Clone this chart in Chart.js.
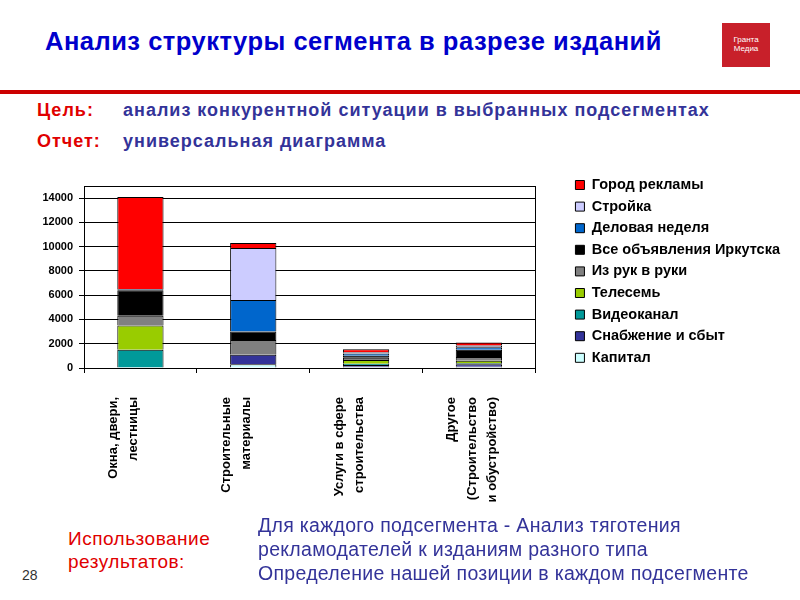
<!DOCTYPE html>
<html>
<head>
<meta charset="utf-8">
<script src="https://cdn.jsdelivr.net/npm/chart.js@4/dist/chart.umd.min.js"></script>
<style>
  body { margin: 0; width: 800px; height: 600px; background: #fff; overflow: hidden; position: relative; font-family: "Liberation Sans", Arial, sans-serif; }
  .abs { position: absolute; white-space: nowrap; }
  #title { left: 45px; top: 28px; font-size: 25.5px; line-height: 26px; letter-spacing: 0.5px; font-weight: bold; color: #0000CC; }
  #rule { left: 0; top: 90px; width: 800px; height: 4px; background: #CC0000; }
  .lbl { font-size: 18px; line-height: 18px; letter-spacing: 1px; font-weight: bold; }
  .red { color: #E00000; }
  .navy { color: #333399; }
  #logo { left: 722px; top: 23px; width: 48px; height: 44px; background: #C8202A; color: #fff; font-size: 8px; line-height: 9px; text-align: center; padding-top: 12px; box-sizing: border-box; }
  #wrap { position: absolute; left: 30px; top: 161px; width: 770px; height: 357px; }
</style>
</head>
<body>
<div class="abs" id="title">Анализ структуры сегмента в разрезе изданий</div>
<div class="abs" id="logo">Гранта<br>Медиа</div>
<div class="abs" id="rule"></div>
<div class="abs lbl red" style="left:37px;top:100.5px">Цель:</div>
<div class="abs lbl navy" style="left:123px;top:100.5px">анализ конкурентной ситуации в выбранных подсегментах</div>
<div class="abs lbl red" style="left:37px;top:131.5px">Отчет:</div>
<div class="abs lbl navy" style="left:123px;top:131.5px">универсальная диаграмма</div>

<div id="wrap"><canvas id="grafico"></canvas></div>

<div class="abs red" style="left:68px;top:527px;font-size:19px;line-height:23px;letter-spacing:0.5px">Использование<br>результатов:</div>
<div class="abs navy" style="left:258px;top:512.7px;font-size:19.5px;line-height:24px;letter-spacing:0.3px">Для каждого подсегмента - Анализ тяготения<br>рекламодателей к изданиям разного типа<br>Определение нашей позиции в каждом подсегменте</div>
<div class="abs" style="left:22px;top:568px;font-size:14px;line-height:14px;color:#333">28</div>

<script>
const categorias = [
  ["Окна, двери,", "лестницы"],
  ["Строительные", "материалы"],
  ["Услуги в сфере", "строительства"],
  ["Другое", "(Строительство", "и обустройство)"]
];
const yTicks = [0, 2000, 4000, 6000, 8000, 10000, 12000, 14000];

// снизу вверх, как в стопке
const kapital = [0, 300, 100, 100];
const snabzhenie = [0, 800, 150, 200];
const videokanal = [1500, 0, 100, 100];
const telesem = [2000, 0, 300, 200];
const izRukVRuki = [800, 1200, 200, 300];
const vseObyavleniya = [2100, 700, 150, 600];
const delovayaNedelya = [100, 2600, 200, 200];
const stroyka = [0, 4300, 100, 150];
const gorodReklamy = [7600, 400, 250, 250];

const fonte = "'Liberation Sans', Arial, sans-serif";

function serie(label, data, cor) {
  return { label: label, data: data, backgroundColor: cor, borderColor: "#000", borderWidth: 1 };
}

const ctx = document.getElementById("grafico").getContext("2d");

new Chart(ctx, {
  type: "bar",
  data: {
    labels: categorias,
    datasets: [
      serie("Капитал", kapital, "#CCFFFF"),
      serie("Снабжение и сбыт", snabzhenie, "#333399"),
      serie("Видеоканал", videokanal, "#009999"),
      serie("Телесемь", telesem, "#99CC00"),
      serie("Из рук в руки", izRukVRuki, "#808080"),
      serie("Все объявления Иркутска", vseObyavleniya, "#000000"),
      serie("Деловая неделя", delovayaNedelya, "#0066CC"),
      serie("Стройка", stroyka, "#CCCCFF"),
      serie("Город рекламы", gorodReklamy, "#FF0000")
    ]
  },
  options: {
    responsive: true,
    maintainAspectRatio: false,
    animation: false,
    layout: { padding: { top: 9.65, right: 10, left: 0, bottom: 0 } },
    datasets: { bar: { categoryPercentage: 1, barPercentage: 0.41 } },
    plugins: {
      tooltip: { enabled: false },
      legend: {
        position: "right",
        align: "start",
        reverse: true,
        maxWidth: 300,
        labels: {
          boxWidth: 9,
          boxHeight: 9,
          padding: 7.1,
          color: "#000",
          font: { family: fonte, size: 14.5, weight: "bold" }
        }
      }
    },
    scales: {
      x: {
        stacked: true,
        grid: { drawOnChartArea: false, drawTicks: true, tickLength: 5, color: "#000", offset: true },
        border: { color: "#000", width: 1 },
        ticks: {
          minRotation: 90, maxRotation: 90, autoSkip: false, padding: 24, labelOffset: -27, color: "#000",
          font: { family: fonte, size: 13, weight: "bold", lineHeight: 1.54 }
        },
        afterFit: s => { s.height = 150; }
      },
      xTop: {
        type: "category",
        position: "top",
        display: true,
        grid: { display: false },
        ticks: { display: false },
        border: { display: true, color: "#000", width: 1 },
        afterFit: s => { s.height = 15.35; }
      },
      y: {
        stacked: true,
        min: 0,
        max: 15000,
        afterBuildTicks: s => { s.ticks = yTicks.map(v => ({ value: v })); },
        grid: { color: "#000", lineWidth: 1, tickLength: 5 },
        border: { color: "#000", width: 1 },
        ticks: {
          padding: 6, color: "#000",
          font: { family: fonte, size: 11, weight: "bold" },
          callback: v => String(v)
        },
        afterFit: s => { s.width = 54; }
      },
      yRight: {
        type: "linear",
        position: "right",
        display: true,
        min: 0,
        max: 15000,
        grid: { display: false },
        ticks: { display: false },
        border: { display: true, color: "#000", width: 1 },
        afterFit: s => { s.width = 33; }
      }
    }
  }
});
</script>
</body>
</html>
